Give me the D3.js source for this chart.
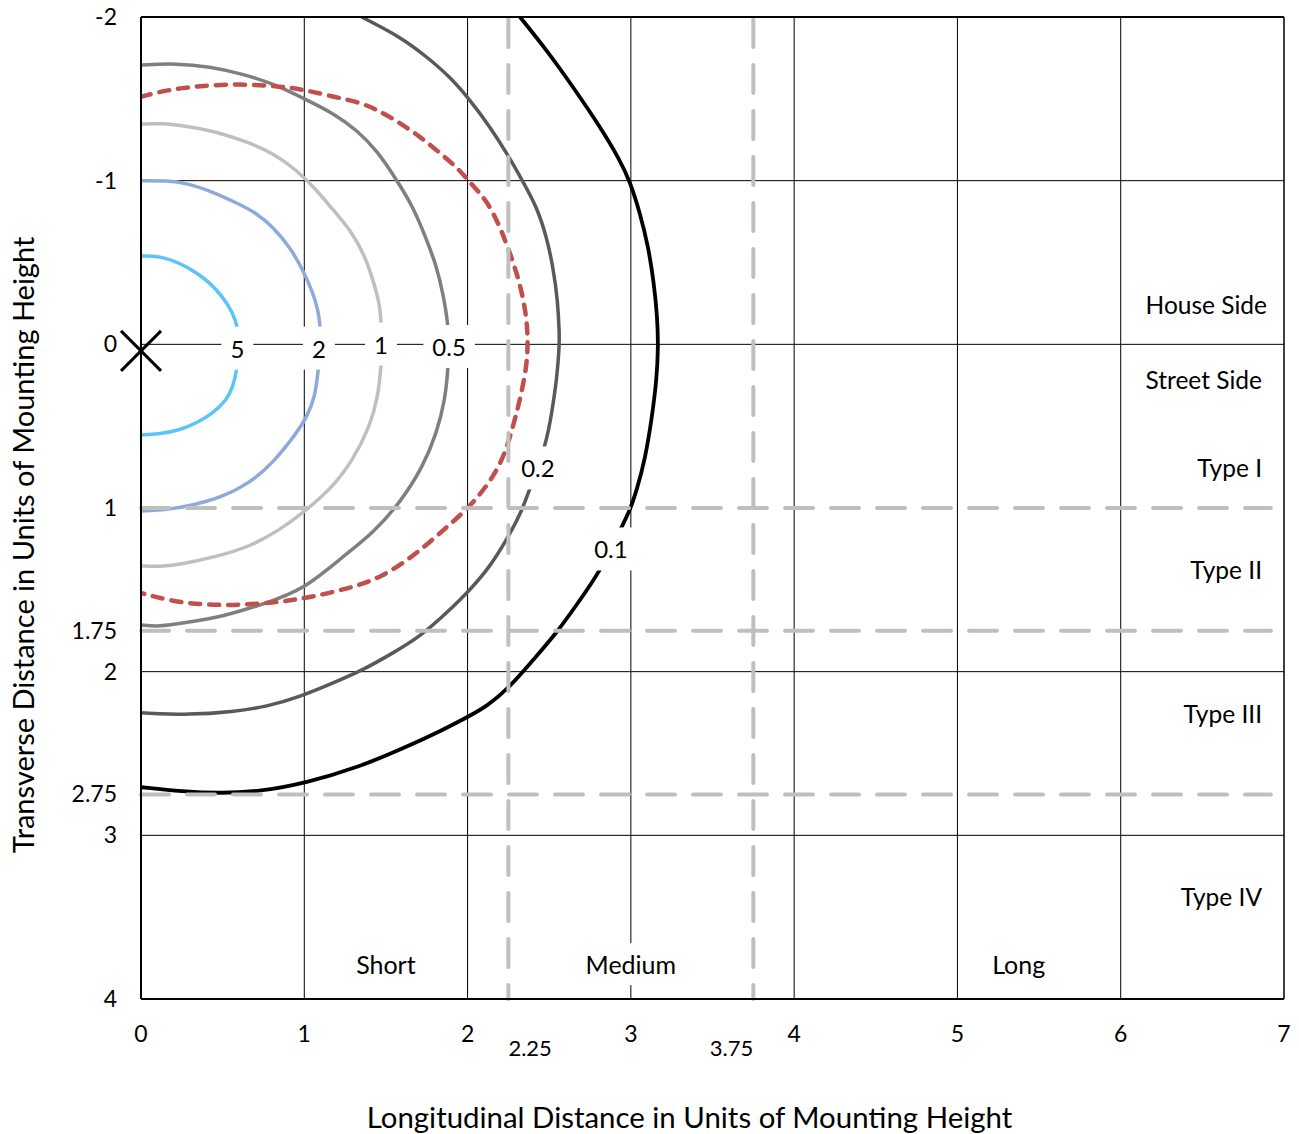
<!DOCTYPE html>
<html>
<head>
<meta charset="utf-8">
<script src="https://cdn.jsdelivr.net/npm/d3@7"></script>
<style>
  body { margin: 0; background: #fff; }
  svg text { font-family: Lato, "Open Sans", sans-serif; fill: #000; }
</style>
</head>
<body>
<svg id="chart" width="1299" height="1134"></svg>
<script>
// isolux curves, [longitudinal, transverse] in mounting heights
const curve5 = [[0,-0.54],[0.116,-0.54],[0.239,-0.497],[0.343,-0.436],[0.423,-0.375],[0.502,-0.289],[0.563,-0.192],[0.594,-0.1],[0.6,0],
  [0.586,0.167],[0.563,0.259],[0.525,0.34],[0.441,0.42],[0.341,0.481],[0.239,0.523],[0.116,0.548],[0,0.554]];
const curve2 = [[0,-1.0],[0.157,-1.0],[0.28,-0.986],[0.441,-0.931],[0.586,-0.864],[0.708,-0.802],[0.808,-0.717],[0.912,-0.595],[0.992,-0.454],
  [1.053,-0.314],[1.084,-0.21],[1.096,-0.13],[1.102,0],[1.084,0.169],[1.066,0.322],[1.015,0.444],[0.953,0.542],[0.808,0.725],[0.667,0.847],
  [0.484,0.939],[0.318,0.982],[0.157,1.012],[0,1.018]];
const curve1 = [[0,-1.346],[0.116,-1.351],[0.28,-1.334],[0.464,-1.299],[0.647,-1.238],[0.808,-1.169],[0.953,-1.065],[1.076,-0.943],[1.176,-0.821],
  [1.298,-0.68],[1.382,-0.515],[1.433,-0.352],[1.464,-0.23],[1.47,-0.13],[1.476,0],[1.47,0.145],[1.451,0.32],[1.402,0.503],[1.298,0.707],
  [1.176,0.87],[1.015,1.012],[0.851,1.134],[0.667,1.236],[0.464,1.297],[0.257,1.342],[0.116,1.359],[0,1.354]];
const curve05 = [[0,-1.707],[0.219,-1.717],[0.423,-1.696],[0.606,-1.656],[0.808,-1.595],[1.015,-1.493],[1.176,-1.413],[1.321,-1.31],[1.443,-1.187],
  [1.566,-1.004],[1.666,-0.841],[1.75,-0.638],[1.811,-0.474],[1.849,-0.314],[1.88,-0.13],[1.886,0],[1.88,0.157],[1.862,0.34],[1.811,0.542],
  [1.727,0.748],[1.586,0.969],[1.421,1.153],[1.237,1.297],[0.992,1.501],[0.77,1.58],[0.502,1.664],[0.257,1.703],[0.116,1.725],[0,1.715]];
const curveRed = [[0,-1.513],[0.157,-1.554],[0.361,-1.58],[0.606,-1.591],[0.831,-1.578],[0.992,-1.558],[1.176,-1.513],[1.359,-1.475],[1.482,-1.413],
  [1.586,-1.352],[1.709,-1.269],[1.831,-1.169],[1.953,-1.065],[2.015,-0.986],[2.117,-0.882],[2.198,-0.719],[2.26,-0.558],[2.321,-0.375],
  [2.362,-0.169],[2.37,-0.008],[2.362,0.137],[2.321,0.34],[2.278,0.503],[2.217,0.707],[2.117,0.87],[1.994,1.012],[1.831,1.153],[1.666,1.297],
  [1.464,1.428],[1.28,1.489],[1.053,1.542],[0.87,1.572],[0.625,1.593],[0.402,1.593],[0.196,1.572],[0,1.519]];
const curve02 = [[1.351,-2.0],[1.586,-1.88],[1.75,-1.757],[1.892,-1.635],[2.015,-1.493],[2.137,-1.33],[2.247,-1.157],[2.339,-0.994],[2.423,-0.841],
  [2.484,-0.658],[2.523,-0.474],[2.552,-0.271],[2.562,-0.069],[2.562,0.014],[2.546,0.218],[2.515,0.42],[2.484,0.603],[2.382,0.878],[2.331,1.023],
  [2.239,1.195],[2.137,1.359],[2.015,1.501],[1.872,1.641],[1.709,1.786],[1.543,1.886],[1.359,1.99],[1.176,2.069],[0.974,2.153],[0.77,2.214],
  [0.563,2.245],[0.3,2.265],[0,2.251]];
const curve01 = [[2.321,-2.0],[2.484,-1.798],[2.645,-1.574],[2.811,-1.33],[2.933,-1.126],[2.995,-0.994],[3.056,-0.802],[3.107,-0.597],[3.141,-0.375],
  [3.162,-0.169],[3.168,0.014],[3.158,0.218],[3.127,0.462],[3.086,0.707],[3.036,0.89],[2.995,1.012],[2.944,1.114],[2.811,1.389],[2.688,1.562],
  [2.546,1.764],[2.4,1.929],[2.26,2.092],[2.117,2.214],[1.994,2.28],[1.849,2.356],[1.586,2.478],[1.341,2.58],[1.015,2.68],[0.729,2.733],
  [0.484,2.743],[0.257,2.733],[0,2.706]];

const curveLabels = ["5", "2", "1", "0.5", "0.2", "0.1"];
const curveLabelPos = [[0.59,0.03],[1.09,0.03],[1.47,0.005],[1.887,0.02],[2.431,0.762],[2.878,1.257]];

const xTicks = [0, 1, 2, 3, 4, 5, 6, 7];
const yTicks = [-2, -1, 0, 1, 1.75, 2, 2.75, 3, 4];
const xGrid = [1, 2, 3, 4, 5, 6];
const yGrid = [-1, 0, 2, 3];
const typeBounds = [1, 1.75, 2.75];     // transverse type limits
const lengthBounds = [2.25, 3.75];      // short / medium / long limits
const luminaire = [0, 0.04];

const sideLabels = [["House Side", -0.24], ["Street Side", 0.22], ["Type I", 0.76], ["Type II", 1.38], ["Type III", 2.26], ["Type IV", 3.38]];
const lengthLabels = [["Short", 1.5], ["Medium", 3.0], ["Long", 5.375]];

const margin = { top: 17, right: 15, bottom: 135, left: 141 };
const width = 1299 - margin.left - margin.right;
const height = 1134 - margin.top - margin.bottom;

const svg = d3.select("#chart");
const g = svg.append("g").attr("transform", `translate(${margin.left},${margin.top})`);

const x = d3.scaleLinear().domain([0, 7]).range([0, width]);
const y = d3.scaleLinear().domain([-2, 4]).range([0, height]);

// Grid lines
g.selectAll(".vgrid").data(xGrid).enter().append("line")
  .attr("x1", d => x(d)).attr("x2", d => x(d))
  .attr("y1", 0).attr("y2", height)
  .attr("stroke", "#000").attr("stroke-width", 1);
g.selectAll(".hgrid").data(yGrid).enter().append("line")
  .attr("x1", 0).attr("x2", width)
  .attr("y1", d => y(d)).attr("y2", d => y(d))
  .attr("stroke", "#000").attr("stroke-width", 1);

// Clip
g.append("defs").append("clipPath").attr("id", "clip")
  .append("rect").attr("width", width).attr("height", height);
const body = g.append("g").attr("clip-path", "url(#clip)");

const line = d3.line()
  .x(d => x(d[0]))
  .y(d => y(d[1]))
  .curve(d3.curveBasis);

const series = [
  { pts: curve5, color: "#5bc4f8", w: 3.5 },
  { pts: curve2, color: "#8eaadb", w: 3.5 },
  { pts: curve1, color: "#bfbfbf", w: 3.5 },
  { pts: curve05, color: "#7f7f7f", w: 3.5 },
  { pts: curveRed, color: "#c0504d", w: 4.5, dash: "10,9" },
  { pts: curve02, color: "#595959", w: 3.5 },
  { pts: curve01, color: "#000000", w: 3.8 }
];

series.forEach(s => {
  body.append("path")
    .datum(s.pts)
    .attr("d", line)
    .attr("fill", "none")
    .attr("stroke", s.color)
    .attr("stroke-width", s.w)
    .attr("stroke-linecap", s.dash ? "round" : "butt")
    .attr("stroke-dasharray", s.dash || null);
});

// Dashed type / length limits
g.selectAll(".tb").data(typeBounds).enter().append("line")
  .attr("x1", 0).attr("x2", x(6.92))
  .attr("y1", d => y(d)).attr("y2", d => y(d))
  .attr("stroke", "#bfbfbf").attr("stroke-width", 4)
  .attr("stroke-dasharray", "28,18").attr("stroke-linecap", "round");
g.selectAll(".lb").data(lengthBounds).enter().append("line")
  .attr("x1", d => x(d)).attr("x2", d => x(d))
  .attr("y1", 2).attr("y2", height)
  .attr("stroke", "#bfbfbf").attr("stroke-width", 4)
  .attr("stroke-dasharray", "28,18").attr("stroke-linecap", "round");

// Curve labels with white boxes
curveLabels.forEach((t, i) => {
  const lg = g.append("g");
  const txt = lg.append("text")
    .attr("x", x(curveLabelPos[i][0]))
    .attr("y", y(curveLabelPos[i][1]))
    .attr("dy", "0.35em")
    .attr("text-anchor", "middle")
    .style("font-size", "24px")
    .text(t);
  const bb = txt.node().getBBox();
  lg.insert("rect", "text")
    .attr("x", bb.x - 9).attr("y", bb.y - 7)
    .attr("width", bb.width + 18).attr("height", bb.height + 14)
    .attr("fill", "#fff");
});

// Region labels
g.selectAll(".side").data(sideLabels).enter().append("text")
  .attr("x", (d, i) => width - (i === 0 ? 17 : 22))
  .attr("y", d => y(d[1]))
  .attr("dy", "0.35em")
  .attr("text-anchor", "end")
  .style("font-size", "24.5px")
  .text(d => d[0]);

lengthLabels.forEach(d => {
  const lg = g.append("g");
  const txt = lg.append("text")
    .attr("x", x(d[1]))
    .attr("y", y(3.795))
    .attr("dy", "0.35em")
    .attr("text-anchor", "middle")
    .style("font-size", "25px")
    .text(d[0]);
  const bb = txt.node().getBBox();
  lg.insert("rect", "text")
    .attr("x", bb.x - 6).attr("y", bb.y - 6)
    .attr("width", bb.width + 12).attr("height", bb.height + 12)
    .attr("fill", "#fff");
});

// Plot border
g.append("line").attr("x1", 0).attr("x2", width).attr("y1", 0).attr("y2", 0).attr("stroke", "#000").attr("stroke-width", 2);
g.append("line").attr("x1", width).attr("x2", width).attr("y1", 0).attr("y2", height).attr("stroke", "#000").attr("stroke-width", 1.5);
g.append("line").attr("x1", 0).attr("x2", width).attr("y1", height).attr("y2", height).attr("stroke", "#000").attr("stroke-width", 2);
g.append("line").attr("x1", 0).attr("x2", 0).attr("y1", 0).attr("y2", height).attr("stroke", "#000").attr("stroke-width", 2);

// Luminaire marker
const lx = x(luminaire[0]), ly = y(luminaire[1]);
g.append("path")
  .attr("d", `M${lx - 20},${ly - 20}L${lx + 20},${ly + 20}M${lx + 20},${ly - 20}L${lx - 20},${ly + 20}`)
  .attr("stroke", "#000").attr("stroke-width", 3).attr("fill", "none");

// Tick labels
g.selectAll(".yt").data(yTicks).enter().append("text")
  .attr("x", -24)
  .attr("y", d => y(d))
  .attr("dy", "0.35em")
  .attr("text-anchor", "end")
  .style("font-size", "23px")
  .text(d => d);

g.selectAll(".xt").data(xTicks).enter().append("text")
  .attr("x", d => x(d))
  .attr("y", height + 35)
  .attr("dy", "0.35em")
  .attr("text-anchor", "middle")
  .style("font-size", "23px")
  .text(d => d);

g.selectAll(".xl").data(lengthBounds).enter().append("text")
  .attr("x", d => x(d))
  .attr("y", height + 49)
  .attr("dy", "0.35em")
  .attr("text-anchor", (d, i) => i === 0 ? "start" : "end")
  .style("font-size", "22px")
  .text(d => d);

// Axis titles
svg.append("text")
  .attr("x", margin.left + width / 2 - 23)
  .attr("y", 1118)
  .attr("dy", "0.35em")
  .attr("text-anchor", "middle")
  .style("font-size", "29.4px")
  .text("Longitudinal Distance in Units of Mounting Height");

svg.append("text")
  .attr("transform", `translate(24,${margin.top + height / 2 + 37}) rotate(-90)`)
  .attr("dy", "0.35em")
  .attr("text-anchor", "middle")
  .style("font-size", "29px")
  .text("Transverse Distance in Units of Mounting Height");
</script>
</body>
</html>
